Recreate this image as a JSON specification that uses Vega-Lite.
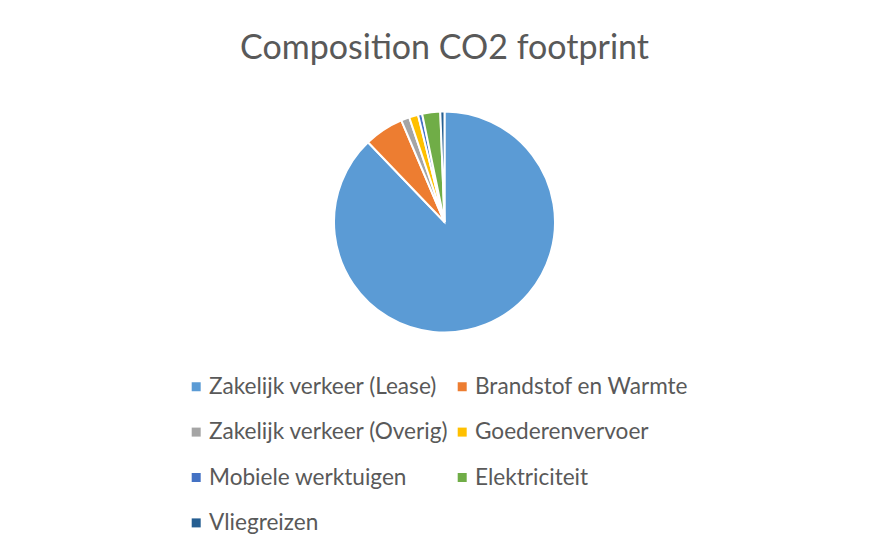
{
  "$schema": "https://vega.github.io/schema/vega-lite/v6.json",
  "width": 853,
  "height": 444,
  "autosize": {"type": "none"},
  "padding": {"left": 18, "top": 0, "right": 0, "bottom": 102},
  "background": "white",
  "config": {"view": {"stroke": null}, "font": "Lato"},
  "title": {
    "text": "Composition CO2 footprint",
    "fontSize": 34,
    "font": "Lato",
    "fontWeight": "normal",
    "color": "#595959",
    "anchor": "middle",
    "frame": "group",
    "baseline": "alphabetic",
    "offset": -93
  },
  "data": {
    "values": [
      {"category": "Zakelijk verkeer (Lease)", "value": 86.6, "order": 1},
      {"category": "Brandstof en Warmte", "value": 5.7, "order": 2},
      {"category": "Zakelijk verkeer (Overig)", "value": 1.2, "order": 3},
      {"category": "Goederenvervoer", "value": 1.3, "order": 4},
      {"category": "Mobiele werktuigen", "value": 0.6, "order": 5},
      {"category": "Elektriciteit", "value": 2.6, "order": 6},
      {"category": "Vliegreizen", "value": 0.6, "order": 7}
    ]
  },
  "mark": {"type": "arc", "radius": 110.5, "stroke": "white", "strokeWidth": 2},
  "encoding": {
    "theta": {"field": "value", "type": "quantitative", "stack": true},
    "order": {"field": "order", "type": "quantitative"},
    "color": {
      "field": "category",
      "type": "nominal",
      "sort": ["Zakelijk verkeer (Lease)", "Brandstof en Warmte", "Zakelijk verkeer (Overig)", "Goederenvervoer", "Mobiele werktuigen", "Elektriciteit", "Vliegreizen"],
      "scale": {
        "domain": ["Zakelijk verkeer (Lease)", "Brandstof en Warmte", "Zakelijk verkeer (Overig)", "Goederenvervoer", "Mobiele werktuigen", "Elektriciteit", "Vliegreizen"],
        "range": ["#5B9BD5", "#ED7D31", "#A5A5A5", "#FFC000", "#4472C4", "#70AD47", "#255E91"]
      },
      "legend": {
        "title": null,
        "orient": "none",
        "legendX": 166.9,
        "legendY": 375.4,
        "columns": 2,
        "direction": "horizontal",
        "symbolType": "square",
        "symbolSize": 81,
        "symbolStrokeWidth": 0,
        "labelFontSize": 22.6,
        "labelFont": "Lato",
        "labelColor": "#595959",
        "labelOffset": 1.5,
        "rowPadding": 22.4,
        "columnPadding": 2,
        "padding": 0,
        "labelLimit": 0
      }
    }
  }
}
